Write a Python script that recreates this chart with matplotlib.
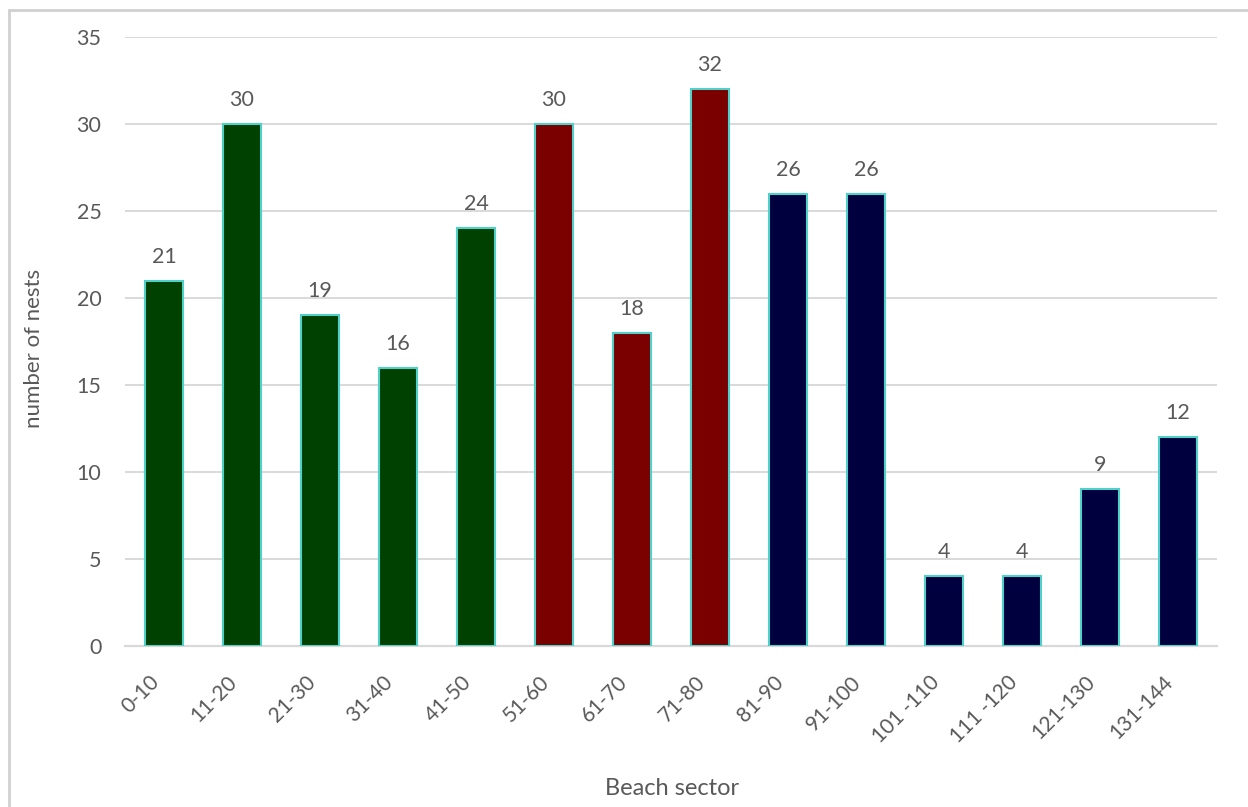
import matplotlib
matplotlib.use("Agg")
import matplotlib.pyplot as plt
from matplotlib.patches import Rectangle
from matplotlib.transforms import ScaledTranslation

sectors = ["0-10", "11-20", "21-30", "31-40", "41-50", "51-60", "61-70", "71-80",
           "81-90", "91-100", "101 -110", "111 -120", "121-130", "131-144"]
nests = [21, 30, 19, 16, 24, 30, 18, 32, 26, 26, 4, 4, 9, 12]
groups = ["A"] * 5 + ["B"] * 3 + ["C"] * 6
group_colors = {"A": "#004000", "B": "#7A0000", "C": "#00003F"}
yticks = [0, 5, 10, 15, 20, 25, 30, 35]

plt.rcParams['font.family'] = ['Lato', 'DejaVu Sans']
text_color = "#595959"
grid_color = "#D9D9D9"

fig = plt.figure(figsize=(12.48, 8.07), dpi=100)
ax = fig.add_axes([125/1248, 1-646/807, 1092/1248, 609/807])

# outer chart border
fig.patches.append(Rectangle((9/1248, -0.5), 2.0, 0.5 + (1 - 10/807), transform=fig.transFigure,
                             fill=False, edgecolor="#D0D0D0", linewidth=2.0, zorder=0))

x = list(range(len(sectors)))
bars = ax.bar(x, nests, width=0.49, color=[group_colors[g] for g in groups],
              edgecolor="#4FD0C8", linewidth=1.5, zorder=3)

for xi, v in zip(x, nests):
    ax.annotate(str(v), (xi, v), xytext=(0, 13), textcoords="offset points",
                ha="center", va="baseline", fontsize=15.5, color=text_color)

ax.set_xlim(-0.5, len(sectors) - 0.5)
ax.set_ylim(0, 35)
ax.set_yticks(yticks)
ax.set_yticklabels([str(t) for t in yticks])
ax.yaxis.grid(True, color=grid_color, linewidth=1.4, zorder=0)
ax.set_axisbelow(True)
for s in ["left", "right", "top"]:
    ax.spines[s].set_visible(False)
ax.spines["bottom"].set_color(grid_color)
ax.spines["bottom"].set_linewidth(1.6)
ax.tick_params(axis="y", length=0, pad=17, labelsize=15.5, labelcolor=text_color)
ax.tick_params(axis="x", length=0, pad=0, labelsize=15, labelcolor=text_color)

ax.set_xticks(x)
ax.set_xticklabels(sectors, rotation=45, ha="right", va="center", rotation_mode="anchor")
offset = ScaledTranslation(-8/100, -33/100, fig.dpi_scale_trans)
for lab in ax.get_xticklabels():
    lab.set_transform(lab.get_transform() + offset)

ax.set_xlabel("Beach sector", fontsize=17, color=text_color)
ax.xaxis.set_label_coords((672-125)/1092, (646-778)/609)
ax.set_ylabel("number of nests", fontsize=16, color=text_color)
ax.yaxis.set_label_coords((44-125)/1092, (646-348)/609)

fig.savefig("out.png", dpi=100)
